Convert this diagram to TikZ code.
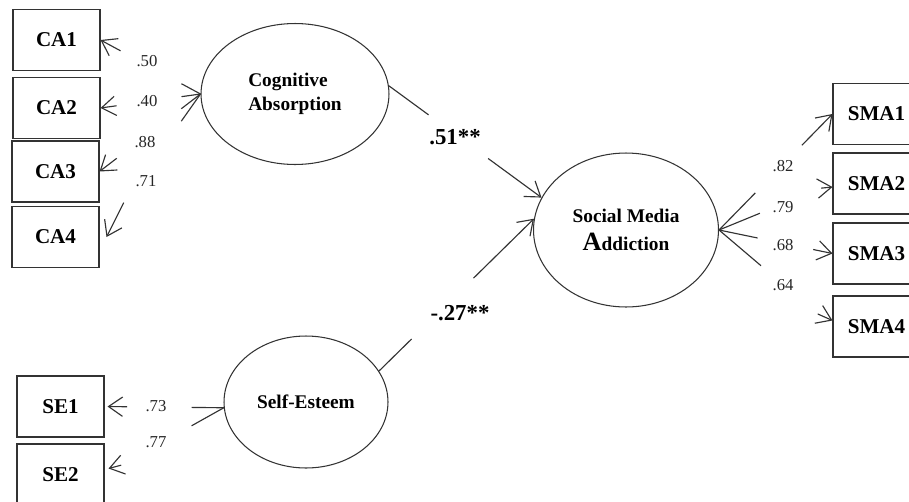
\documentclass[tikz,border=0pt]{standalone}
\usepackage{fontspec}
\setmainfont{Liberation Serif}
\usetikzlibrary{positioning,shapes.geometric,arrows.meta,calc}

\begin{document}
\begin{tikzpicture}
            [x=0.02cm, y=-0.02cm,
            % every node/.style={draw=black!75, thick},
            item/.style={draw=black!80, line width=0.6pt, minimum width=1.74cm, minimum height=1.22cm,
                inner sep=0pt, font=\fontsize{12}{14}\selectfont\bfseries},
            latent/.style={ellipse, draw=black!80, line width=0.6pt, inner sep=0pt,
                font=\fontsize{11}{13.6}\selectfont\bfseries},
            load/.style={inner sep=0pt, text=black!85, font=\fontsize{9.5}{11}\selectfont},
            coef/.style={inner sep=0pt, font=\fontsize{13}{15}\selectfont\bfseries},
            link/.style={draw=black!80, line width=0.65pt, -{Straight Barb[length=8pt, width=11pt]}}]
            \useasboundingbox (0,0) rectangle (909,501);

            % latent variables
            \node [latent, minimum width=3.76cm, minimum height=2.82cm, align=left] (ca) at (295,94) {Cognitive\\Absorption};
            \node [latent, minimum width=3.7cm, minimum height=3.08cm, align=center] (sma) at (626,230)
                {Social Media\\[2pt]{\fontsize{15}{15}\selectfont A}ddiction};
            \node [latent, minimum width=3.28cm, minimum height=2.64cm] (se) at (306,402) {Self-Esteem};

            % indicators
            \node [item] (CA1) at (56.5,40) {CA1};
            \node [item] (CA2) at (56.5,108) {CA2};
            \node [item] (CA3) at (55.5,171.5) {CA3};
            \node [item] (CA4) at (55.5,237) {CA4};
            \node [item] (SE1) at (60.5,406.5) {SE1};
            \node [item] (SE2) at (60.5,474.5) {SE2};
            \node [item] (SMA1) at (876.5,114) {SMA1};
            \node [item] (SMA2) at (876.5,183.5) {SMA2};
            \node [item] (SMA3) at (876.5,253.5) {SMA3};
            \node [item] (SMA4) at (876.5,326.5) {SMA4};

            % loadings
            \node [load] (l50) at (147,61) {.50};
            \node [load] (l40) at (147,101) {.40};
            \node [load] (l88) at (145,142) {.88};
            \node [load] (l71) at (146,181) {.71};
            \node [load] (l73) at (156,406) {.73};
            \node [load] (l77) at (156,442) {.77};
            \node [load] (l82) at (783,166) {.82};
            \node [load] (l79) at (783,207) {.79};
            \node [load] (l68) at (783,245.5) {.68};
            \node [load] (l64) at (783,285) {.64};

            % paths
            \node [coef] (b1) at (455,137) {.51**};
            \node [coef] (b2) at (460,313) {-.27**};

            \draw [link] (ca.west) -- ($(ca.west)!.19!(CA1.east)$) ($(ca.west)!.8!(CA1.east)$) -- (CA1.east);
            \draw [link] (ca.west) -- ($(ca.west)!.19!(CA2.east)$) ($(ca.west)!.84!(CA2.east)$) -- (CA2.east);
            \draw [link] (ca.west) -- ($(ca.west)!.19!(CA3.east)$) ($(ca.west)!.83!(CA3.east)$) -- (CA3.east);
            \draw [link] (ca.west) -- ($(ca.west)!.19!(CA4.east)$) ($(ca.west)!.76!(CA4.east)$) -- ([xshift=0.14cm]CA4.east);

            \draw [link] (se.184) -- ($(se.184)!.27!(SE1.east)$) ($(se.184)!.81!(SE1.east)$) -- ([xshift=0.06cm]SE1.east);
            \draw [link] (se.184) -- ($(se.184)!.27!(SE2.east)$) ($(se.184)!.86!(SE2.east)$) -- ([xshift=0.08cm,yshift=0.12cm]SE2.east);

            \draw [link] (sma.east) -- ($(sma.east)!.32!(SMA1.west)$) ($(sma.east)!.73!(SMA1.west)$) -- (SMA1.west);
            \draw [link] (sma.east) -- ($(sma.east)!.36!(SMA2.west)$) ($(sma.east)!.9!(SMA2.west)$) -- ([yshift=-0.07cm]SMA2.west);
            \draw [link] (sma.east) -- ($(sma.east)!.34!(SMA3.west)$) ($(sma.east)!.83!(SMA3.west)$) -- (SMA3.west);
            \draw [link] (sma.east) -- ($(sma.east)!.37!(SMA4.west)$) ($(sma.east)!.87!(SMA4.west)$) -- ([yshift=0.12cm]SMA4.west);

            \draw [link] (ca.5) -- ($(ca.5)!.26!(sma.159)$) ($(ca.5)!.65!(sma.159)$) -- (sma.159);
            \draw [link] (se.23) -- ($(se.23)!.21!(sma.173)$) ($(se.23)!.61!(sma.173)$) -- (sma.173);
\end{tikzpicture}
\end{document}
